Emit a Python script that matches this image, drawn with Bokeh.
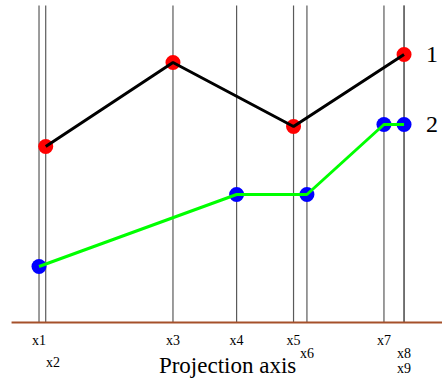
from bokeh.plotting import figure
from bokeh.models import Range1d
from bokeh.core.properties import value
from bokeh.embed import file_html
from bokeh.resources import INLINE

# ---- data ----
labels = ["x1", "x2", "x3", "x4", "x5", "x6", "x7", "x8", "x9"]
positions = [0.0, 0.1, 2.0, 2.95, 3.8, 4.0, 5.15, 5.45, 5.45]

s1_labels = ["x2", "x3", "x5", "x9"]
s1_values = [4.4, 6.5, 4.9, 6.7]

s2_labels = ["x1", "x4", "x6", "x7", "x8"]
s2_values = [1.4, 3.2, 3.2, 4.95, 4.95]

series_names = ["1", "2"]
axis_title = "Projection axis"

# ---- layout (label placement below the axis) ----
label_dy = [-0.45, -1.0, -0.45, -0.45, -0.45, -0.775, -0.45, -0.775, -1.15]
label_dx = [0.0, 0.11, 0.0, 0.0, 0.0, 0.0, 0.0, 0.0, 0.0]
TOP = 7.925

pos = dict(zip(labels, positions))
s1_x = [pos[k] for k in s1_labels]
s2_x = [pos[k] for k in s2_labels]

p = figure(width=442, height=381, output_backend="svg", toolbar_location=None,
           x_axis_type=None, y_axis_type=None, min_border=0,
           x_range=Range1d(-0.575, 6.024), y_range=Range1d(-1.475, 8.05))
p.outline_line_color = None
p.grid.visible = False
p.background_fill_color = "white"
p.border_fill_color = "white"

SERIF = value("Liberation Serif")

# vertical projection lines
p.segment(x0=positions, y0=[0] * len(positions), x1=positions, y1=[TOP] * len(positions),
          line_color="#5a5a5a", line_width=1.2)

# projection axis
p.segment(x0=[-0.41], y0=[0], x1=[6.024], y1=[0], line_color="#a5502a", line_width=2)

# points (drawn under lines)
p.scatter(s1_x, s1_values, size=15, fill_color="#ff0000", line_color=None)
p.scatter(s2_x, s2_values, size=15, fill_color="#0000ff", line_color=None)
p.line(s1_x, s1_values, line_color="black", line_width=3)
p.line(s2_x, s2_values, line_color="#00ff00", line_width=3)

# tick labels
p.text(x=[a + b for a, b in zip(positions, label_dx)], y=label_dy, text=labels,
       text_font=SERIF, text_font_size="14px", text_color="black",
       text_align="center", text_baseline="middle")

# axis title
p.text(x=[2.815], y=[-1.075], text=[axis_title], text_font=SERIF, text_font_size="23px",
       text_color="black", text_align="center", text_baseline="middle")

# series labels
p.text(x=[s1_x[-1], s2_x[-1]], y=[s1_values[-1], s2_values[-1]], text=series_names,
       x_offset=28, text_font=SERIF, text_font_size="24px", text_color="black",
       text_align="center", text_baseline="middle")

open("out.html", "w").write(file_html(p, INLINE))
